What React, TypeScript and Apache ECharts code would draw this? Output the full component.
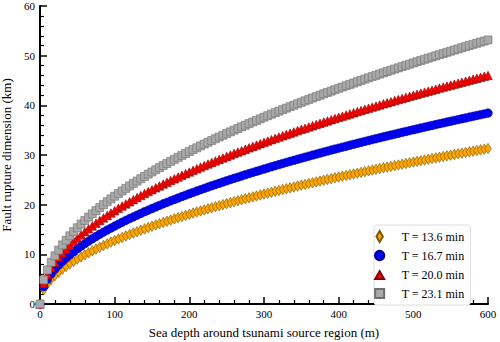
import React, { useEffect, useRef } from "react";
import * as echarts from "echarts";

const depth = [
  0, 5, 10, 15, 20, 25, 30, 35, 40, 45, 50, 55, 60, 65, 70, 75, 80, 85, 90, 95,
  100, 105, 110, 115, 120, 125, 130, 135, 140, 145, 150, 155, 160, 165, 170, 175, 180, 185, 190, 195,
  200, 205, 210, 215, 220, 225, 230, 235, 240, 245, 250, 255, 260, 265, 270, 275, 280, 285, 290, 295,
  300, 305, 310, 315, 320, 325, 330, 335, 340, 345, 350, 355, 360, 365, 370, 375, 380, 385, 390, 395,
  400, 405, 410, 415, 420, 425, 430, 435, 440, 445, 450, 455, 460, 465, 470, 475, 480, 485, 490, 495,
  500, 505, 510, 515, 520, 525, 530, 535, 540, 545, 550, 555, 560, 565, 570, 575, 580, 585, 590, 595,
  600,
];

const t136 = [
  0, 2.86, 4.04, 4.95, 5.71, 6.39, 7.0, 7.56, 8.08, 8.57, 9.04, 9.48, 9.9, 10.3, 10.69, 11.07, 11.43, 11.78, 12.12, 12.46,
  12.78, 13.09, 13.4, 13.7, 14.0, 14.29, 14.57, 14.85, 15.12, 15.39, 15.65, 15.91, 16.16, 16.41, 16.66, 16.9, 17.14, 17.38, 17.61, 17.84,
  18.07, 18.3, 18.52, 18.74, 18.95, 19.17, 19.38, 19.59, 19.8, 20.0, 20.21, 20.41, 20.61, 20.8, 21.0, 21.19, 21.38, 21.57, 21.76, 21.95,
  22.13, 22.32, 22.5, 22.68, 22.86, 23.04, 23.21, 23.39, 23.56, 23.74, 23.91, 24.08, 24.25, 24.41, 24.58, 24.75, 24.91, 25.07, 25.24, 25.4,
  25.56, 25.72, 25.88, 26.03, 26.19, 26.34, 26.5, 26.65, 26.81, 26.96, 27.11, 27.26, 27.41, 27.56, 27.7, 27.85, 28.0, 28.14, 28.29, 28.43,
  28.57, 28.72, 28.86, 29.0, 29.14, 29.28, 29.42, 29.56, 29.7, 29.83, 29.97, 30.11, 30.24, 30.37, 30.51, 30.64, 30.78, 30.91, 31.04, 31.17,
  31.3,
];

const t167 = [
  0, 3.51, 4.96, 6.08, 7.02, 7.85, 8.59, 9.28, 9.92, 10.53, 11.1, 11.64, 12.15, 12.65, 13.13, 13.59, 14.04, 14.47, 14.89, 15.29,
  15.69, 16.08, 16.46, 16.83, 17.19, 17.54, 17.89, 18.23, 18.57, 18.9, 19.22, 19.54, 19.85, 20.16, 20.46, 20.76, 21.05, 21.34, 21.63, 21.91,
  22.19, 22.47, 22.74, 23.01, 23.27, 23.54, 23.8, 24.06, 24.31, 24.56, 24.81, 25.06, 25.3, 25.54, 25.78, 26.02, 26.26, 26.49, 26.72, 26.95,
  27.18, 27.4, 27.63, 27.85, 28.07, 28.29, 28.51, 28.72, 28.93, 29.15, 29.36, 29.57, 29.77, 29.98, 30.18, 30.39, 30.59, 30.79, 30.99, 31.19,
  31.38, 31.58, 31.77, 31.97, 32.16, 32.35, 32.54, 32.73, 32.92, 33.1, 33.29, 33.47, 33.66, 33.84, 34.02, 34.2, 34.38, 34.56, 34.74, 34.91,
  35.09, 35.26, 35.44, 35.61, 35.78, 35.95, 36.13, 36.3, 36.46, 36.63, 36.8, 36.97, 37.13, 37.3, 37.46, 37.63, 37.79, 37.95, 38.12, 38.28,
  38.44,
];

const t200 = [
  0, 4.2, 5.94, 7.28, 8.4, 9.4, 10.29, 11.12, 11.89, 12.61, 13.29, 13.94, 14.56, 15.15, 15.72, 16.27, 16.81, 17.33, 17.83, 18.32,
  18.79, 19.26, 19.71, 20.15, 20.59, 21.01, 21.43, 21.84, 22.24, 22.63, 23.02, 23.4, 23.77, 24.14, 24.5, 24.86, 25.21, 25.56, 25.9, 26.24,
  26.58, 26.91, 27.23, 27.56, 27.87, 28.19, 28.5, 28.81, 29.11, 29.41, 29.71, 30.01, 30.3, 30.59, 30.88, 31.16, 31.45, 31.73, 32.0, 32.28,
  32.55, 32.82, 33.09, 33.35, 33.62, 33.88, 34.14, 34.4, 34.65, 34.91, 35.16, 35.41, 35.66, 35.9, 36.15, 36.39, 36.63, 36.87, 37.11, 37.35,
  37.59, 37.82, 38.05, 38.28, 38.51, 38.74, 38.97, 39.2, 39.42, 39.64, 39.86, 40.09, 40.31, 40.52, 40.74, 40.96, 41.17, 41.39, 41.6, 41.81,
  42.02, 42.23, 42.44, 42.65, 42.85, 43.06, 43.26, 43.47, 43.67, 43.87, 44.07, 44.27, 44.47, 44.67, 44.87, 45.06, 45.26, 45.45, 45.65, 45.84,
  46.03,
];

const t231 = [
  0, 4.85, 6.86, 8.41, 9.71, 10.85, 11.89, 12.84, 13.73, 14.56, 15.35, 16.1, 16.81, 17.5, 18.16, 18.8, 19.41, 20.01, 20.59, 21.16,
  21.71, 22.24, 22.76, 23.28, 23.78, 24.27, 24.75, 25.22, 25.68, 26.14, 26.58, 27.02, 27.46, 27.88, 28.3, 28.71, 29.12, 29.52, 29.92, 30.31,
  30.7, 31.08, 31.45, 31.83, 32.19, 32.56, 32.92, 33.27, 33.63, 33.97, 34.32, 34.66, 35.0, 35.33, 35.67, 35.99, 36.32, 36.64, 36.96, 37.28,
  37.6, 37.91, 38.22, 38.52, 38.83, 39.13, 39.43, 39.73, 40.02, 40.32, 40.61, 40.9, 41.18, 41.47, 41.75, 42.03, 42.31, 42.59, 42.86, 43.14,
  43.41, 43.68, 43.95, 44.22, 44.48, 44.75, 45.01, 45.27, 45.53, 45.79, 46.04, 46.3, 46.55, 46.81, 47.06, 47.31, 47.55, 47.8, 48.05, 48.29,
  48.53, 48.78, 49.02, 49.26, 49.5, 49.73, 49.97, 50.2, 50.44, 50.67, 50.9, 51.14, 51.36, 51.59, 51.82, 52.05, 52.27, 52.5, 52.72, 52.94,
  53.17,
];

const seriesNames = ["T = 13.6 min", "T = 16.7 min", "T = 20.0 min", "T = 23.1 min"];
const seriesValues = [t136, t167, t200, t231];

const FONT = "Liberation Serif";

const symbols = ["diamond", "circle", "triangle", "rect"];
const symbolSizes: (number | number[])[] = [[6.5, 10.5], 8.5, 8.5, 8];
const colors = ["#FFA500", "#0000FF", "#FF0000", "#A9A9A9"];
const borders = ["#7a5a00", "#00008a", "#8a0000", "#6e6e6e"];
// legend icons drawn in an 11-unit tall frame (two tiny segments mark the frame)
const FRAME = "M5,0L5,0.001M5,11L5,10.999";
const legendIcons = [
  "path://M5,0L8.2,5.5L5,11L1.8,5.5Z",
  "path://" + FRAME + "M5,0.85A4.65,4.65,0,1,1,5,10.15A4.65,4.65,0,1,1,5,0.85Z",
  "path://" + FRAME + "M5,2.2L9.5,10L0.5,10Z",
  "path://" + FRAME + "M0.5,1L9.5,1L9.5,10L0.5,10Z",
];

export default function App() {
  const ref = useRef<HTMLDivElement>(null);
  useEffect(() => {
    if (!ref.current) return;
    const chart = echarts.init(ref.current, null, { renderer: "svg" });
    const series = seriesNames.map((name, s) => ({
      name,
      type: "scatter",
      symbol: symbols[s],
      symbolSize: symbolSizes[s],
      data: depth.map((d, i) => [d, seriesValues[s][i]]),
      itemStyle: { color: colors[s], borderColor: borders[s], borderWidth: 0.6, opacity: 1 },
      z: 2 + s,
    }));
    chart.setOption({
      animation: false,
      backgroundColor: "#ffffff",
      textStyle: { fontFamily: FONT },
      grid: { left: 40, right: 12, top: 6, bottom: 38, containLabel: false, outerBoundsMode: "none" },
      legend: {
        orient: "vertical",
        left: 374,
        top: 225,
        padding: [5, 6, 5, 0],
        itemWidth: 34,
        itemHeight: 11,
        itemGap: 6,
        borderColor: "#dddddd",
        borderWidth: 1,
        borderRadius: 3,
        backgroundColor: "#ffffff",
        textStyle: { fontFamily: FONT, fontSize: 12, color: "#000" },
        data: seriesNames.map((n, s) => ({ name: n, icon: legendIcons[s] })),
      },
      xAxis: {
        type: "value",
        min: 0,
        max: 600,
        interval: 100,
        name: "Sea depth around tsunami source region (m)",
        nameLocation: "middle",
        nameGap: 22,
        nameTextStyle: { fontFamily: FONT, fontSize: 13, color: "#000" },
        axisLine: { show: true, lineStyle: { color: "#000", width: 2 } },
        axisTick: { show: true, inside: true, length: 7, lineStyle: { color: "#000", width: 1.5 } },
        minorTick: { show: true, splitNumber: 5, length: 4, lineStyle: { color: "#000", width: 1.2 } },
        axisLabel: { fontFamily: FONT, fontSize: 11, color: "#000", margin: 4 },
        splitLine: { show: false },
      },
      yAxis: {
        type: "value",
        min: 0,
        max: 60,
        interval: 10,
        name: "Fault rupture dimension (km)",
        nameLocation: "middle",
        nameGap: 24,
        nameTextStyle: { fontFamily: FONT, fontSize: 13, color: "#000" },
        axisLine: { show: true, lineStyle: { color: "#000", width: 2 } },
        axisTick: { show: true, inside: true, length: 7, lineStyle: { color: "#000", width: 1.5 } },
        minorTick: { show: true, splitNumber: 5, length: 4, lineStyle: { color: "#000", width: 1.2 } },
        axisLabel: { fontFamily: FONT, fontSize: 11, color: "#000", margin: 5 },
        splitLine: { show: false },
      },
      series,
    });
    return () => chart.dispose();
  }, []);
  return (
    <div
      ref={ref}
      style={{ position: "fixed", left: 0, top: 0, width: 500, height: 342, background: "#fff" }}
    />
  );
}
